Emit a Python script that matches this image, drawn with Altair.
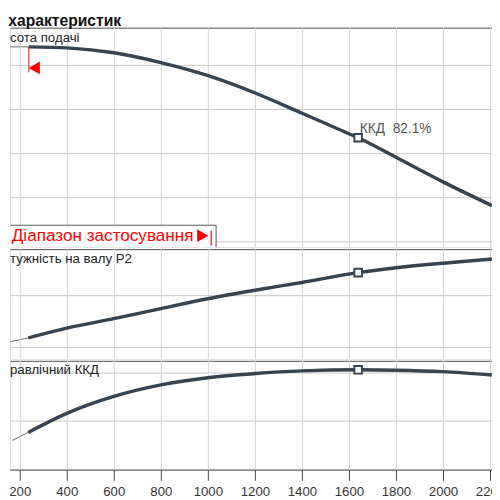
import altair as alt
import pandas as pd

# ---------------- data ----------------
Q_MIN, Q_MAX = 158.33, 2208.33

h_q = [160.43, 238, 401, 601, 800, 1001, 1201, 1401, 1600, 1639, 1800, 2000, 2208]
h_v = [49.1, 49.1, 48.86, 47.75, 45.53, 42.56, 38.64, 34.04, 29.4, 28.48, 24.04, 18.48, 13.1]

p_q = [160.43, 236, 400, 600, 800, 1000, 1200, 1400, 1639, 1800, 2000, 2208]
p_v = [48.5, 54, 69, 83.5, 99, 114, 127, 139, 154, 161.5, 168.5, 175]

e_q = [169, 236, 400, 600, 800, 1000, 1200, 1400, 1639, 1800, 2000, 2208]
e_v = [24.0, 30.6, 46.3, 60.2, 69.7, 75.6, 79.0, 81.2, 82.1, 81.8, 80.6, 77.9]

bep_q = 1639
bep_h, bep_p, bep_e = 28.48, 154, 82.1

major_ticks = list(range(200, 2201, 200))
minor_ticks = list(range(200, 2201, 50))

h_domain = [3.67, 53.44]
p_domain = [22, 190]
e_domain = [0, 89.5]
h_grid = [5, 10, 15, 20, 25, 30, 35, 40, 45, 50]
p_grid = [40, 80, 120, 160]
e_grid = [40, 80]

# range markers
range_start_q = 238.7
range_end_q = 1014
box_right_q = 1035
box_top_h = 8.64

DARK = "#37434f"
GRID = "#c8c8c8"
BORDER = "#555555"
RED = "#ff0000"


def base_layers(q, v, domain, grid, x_axis, label, label_v, bep_v):
    df = pd.DataFrame({"Q": q, "V": v})
    top = domain[1]
    xscale = alt.Scale(domain=[Q_MIN, Q_MAX], nice=False, zero=False)
    yscale = alt.Scale(domain=domain, nice=False, zero=False)
    xenc = alt.X("Q:Q", scale=xscale, axis=x_axis)
    yenc = alt.Y(
        "V:Q",
        scale=yscale,
        axis=alt.Axis(
            values=grid + [top],
            labels=False, ticks=False, domain=False, title=None,
            gridColor={"condition": {"test": f"datum.value >= {top - 0.05}", "value": BORDER}, "value": GRID},
        ),
    )
    vgrid = (
        alt.Chart(pd.DataFrame({"G": major_ticks}))
        .transform_calculate(G2="datum.G + 4.1667")
        .mark_rect(color="#d4d4d4", opacity=1)
        .encode(
            x=alt.X("G:Q", scale=xscale, axis=x_axis),
            x2="G2:Q",
            y=alt.datum(domain[0]),
            y2=alt.datum(top),
        )
    )
    thin = alt.Chart(df.iloc[:2]).mark_line(clip=True, color="#666666", strokeWidth=1).encode(x=xenc, y=yenc)
    thick = alt.Chart(df.iloc[1:]).mark_line(
        clip=True, color=DARK, strokeWidth=3.5, interpolate="monotone"
    ).encode(x=xenc, y=yenc)
    bep = alt.Chart(pd.DataFrame({"Q": [bep_q], "V": [bep_v]})).mark_point(
        shape="square", size=60, filled=True, fill="white", stroke=DARK, strokeWidth=2, opacity=1
    ).encode(x="Q:Q", y="V:Q")
    txt = alt.Chart().mark_text(
        text=label, align="left", baseline="middle", fontSize=13.5, color="#222222"
    ).encode(x=alt.datum(Q_MIN), y=alt.datum(label_v))
    return [thin, vgrid, thick, bep, txt]


upper_x_axis = alt.Axis(values=major_ticks, labels=False, ticks=False, domain=False, title=None, grid=False)

bottom_x_axis = alt.Axis(
    values=minor_ticks,
    format="d",
    labelExpr="datum.value % 200 === 0 ? datum.label : ''",
    title=None,
    grid=False,
    domainColor="#444444",
    tickColor="#444444",
    tickSize={"condition": {"test": "datum.value % 200 === 0", "value": 11}, "value": 7},
    labelColor="#333333",
    labelFontSize=13.5,
    labelPadding=4,
    labelFlush=False,
    labelOverlap=False,
)

# ---- top panel: head ----
top_layers = base_layers(h_q, h_v, h_domain, h_grid, upper_x_axis, "сота подачі", 51.15, bep_h)

box = alt.Chart().mark_rect(fill="white", opacity=1).encode(
    x=alt.datum(Q_MIN), x2=alt.datum(box_right_q), y=alt.datum(box_top_h), y2=alt.datum(h_domain[0])
)
box_top = alt.Chart().mark_rule(color=BORDER, strokeWidth=1).encode(
    x=alt.datum(h_q[0]), x2=alt.datum(box_right_q), y=alt.datum(box_top_h)
)
box_right = alt.Chart().mark_rule(color=BORDER, strokeWidth=1).encode(
    x=alt.datum(box_right_q), y=alt.datum(box_top_h), y2=alt.datum(h_domain[0])
)
box_text = alt.Chart().mark_text(
    text="Діапазон застосування", align="left", baseline="middle", fontSize=17.5, color=RED
).encode(x=alt.datum(166), y=alt.datum(6.27))
box_tri = alt.Chart().mark_point(shape="triangle-right", size=170, filled=True, color=RED, opacity=1).encode(
    x=alt.datum(978), y=alt.datum(6.27)
)
box_bar = alt.Chart().mark_rule(color=RED, strokeWidth=1.2).encode(
    x=alt.datum(range_end_q), y=alt.datum(7.38), y2=alt.datum(4.04)
)
start_rule = alt.Chart().mark_rule(color=RED, strokeWidth=1).encode(
    x=alt.datum(range_start_q), y=alt.datum(49.08), y2=alt.datum(43.31)
)
start_tri = alt.Chart().mark_point(shape="triangle-left", size=170, filled=True, color=RED, opacity=1).encode(
    x=alt.datum(262), y=alt.datum(44.31)
)
kkd_label = alt.Chart().mark_text(
    text="ККД\u00a0\u00a082.1%", align="left", baseline="middle", fontSize=14, color="#555555"
).encode(x=alt.datum(1646), y=alt.datum(30.5))

top = alt.layer(
    *top_layers, box, box_top, box_right, box_text, box_tri, box_bar, start_rule, start_tri, kkd_label
).properties(width=492, height=224)

# ---- middle panel: shaft power ----
mid = alt.layer(
    *base_layers(p_q, p_v, p_domain, p_grid, upper_x_axis, "тужність на валу P2", 174.5, bep_p)
).properties(width=492, height=112)

# ---- bottom panel: efficiency ----
bot = alt.layer(
    *base_layers(e_q, e_v, e_domain, e_grid, bottom_x_axis, "равлічний ККД", 82.0, bep_e)
).properties(width=492, height=111)

chart = (
    alt.vconcat(top, mid, bot, spacing=0)
    .properties(
        title=alt.Title("характеристик", anchor="start", fontSize=16, fontWeight="bold", color="#111111", offset=-2),
        padding={"left": 0, "right": -14, "top": 0, "bottom": 0},
    )
    .configure_view(stroke=None)
    .configure(font="Liberation Sans")
)

chart.save("out.html", embed_options={"renderer": "svg", "actions": False})
